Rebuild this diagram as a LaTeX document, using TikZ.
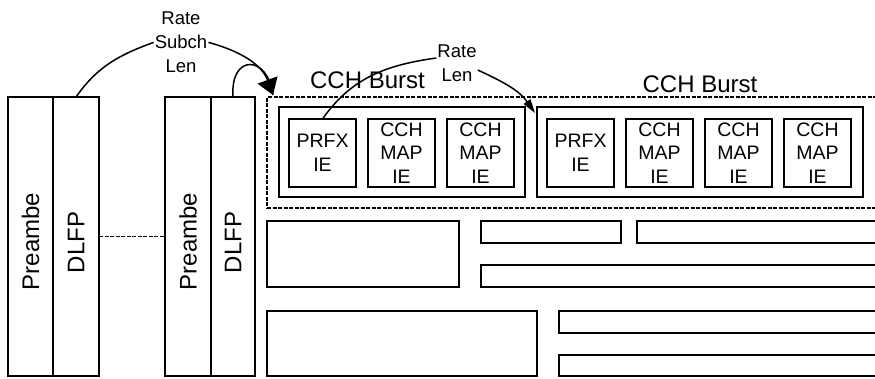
\documentclass[tikz,border=0pt]{standalone}
\usepackage{fontspec}
\setmainfont{Liberation Sans}
\usetikzlibrary{positioning, arrows.meta}

\begin{document}
\begin{tikzpicture}[
  x=1pt, y=1pt,
  node distance=12pt,
  campo/.style={rectangle, draw, line width=1.7pt, inner sep=0pt,
                outer sep=0pt, anchor=north west},
  ie/.style={rectangle, draw, line width=1.7pt, inner sep=0pt, outer sep=0pt,
             minimum width=67pt, minimum height=68pt, align=center,
             font=\fontsize{19.5}{23.5}\selectfont},
  vert/.style={rotate=90, inner sep=0pt, font=\fontsize{24}{28}\selectfont},
  etiq/.style={align=center, inner sep=1pt, font=\fontsize{18.5}{24}\selectfont},
  titulo/.style={anchor=base, inner sep=0pt, font=\fontsize{24}{28}\selectfont},
  arr/.style={line width=1.5pt},
  punteado/.style={dash pattern=on 4pt off 1.5pt, line width=1.2pt},
]
\useasboundingbox (0,0) rectangle (875,-378);
\clip (0,0) rectangle (875,-378);
% Preambulo y DLFP (dos tramas)
\node[campo, minimum width=45pt, minimum height=279pt] (pre1)  at (8,-97) {};
\node[campo, minimum width=46pt, minimum height=279pt] (dlfp1) at (pre1.north east) {};
\node[campo, minimum width=46pt, minimum height=279pt] (pre2)  at (165,-97) {};
\node[campo, minimum width=44pt, minimum height=279pt] (dlfp2) at (pre2.north east) {};
\node[vert] (tpre1)  at ([yshift=-5pt]pre1.center)  {Preambe};
\node[vert] (tdlfp1) at ([yshift=-6pt]dlfp1.center) {DLFP};
\node[vert] (tpre2)  at ([yshift=-5pt]pre2.center)  {Preambe};
\node[vert] (tdlfp2) at ([yshift=-6pt]dlfp2.center) {DLFP};
\draw[punteado] (dlfp1.east) -- (pre2.west);
% Zona de rafagas CCH (discontinua)
\node[campo, punteado, minimum width=640pt, minimum height=111pt] (zona) at (267,-97) {};
\node[campo, minimum width=246pt, minimum height=90pt] (burst1) at (279,-107) {};
\node[ie, anchor=north west] (prfx1) at (289,-119) {PRFX\\IE};
\node[ie, right=of prfx1] (map1a) {CCH\\MAP\\IE};
\node[ie, right=of map1a] (map1b) {CCH\\MAP\\IE};
\node[campo, minimum width=326pt, minimum height=90pt] (burst2) at (537,-107) {};
\node[ie, anchor=north west] (prfx2) at (547,-119) {PRFX\\IE};
\node[ie, right=of prfx2] (map2a) {CCH\\MAP\\IE};
\node[ie, right=of map2a] (map2b) {CCH\\MAP\\IE};
\node[ie, right=of map2b] (map2c) {CCH\\MAP\\IE};
\node[titulo] (hdr1) at (367.5,-88) {CCH Burst};
\node[titulo] (hdr2) at (700,-92) {CCH Burst};
% Campos inferiores
\node[campo, minimum width=192pt, minimum height=66pt] (blqA) at (267,-221) {};
\node[campo, minimum width=140pt, minimum height=22pt] (barra1) at ([xshift=22pt]blqA.north east) {};
\node[campo, minimum width=260pt, minimum height=22pt] (barra2) at ([xshift=16pt]barra1.north east) {};
\node[campo, minimum width=420pt, minimum height=22pt] (barra3) at (481,-265) {};
\node[campo, minimum width=270pt, minimum height=65pt] (blqB) at (267,-311) {};
\node[campo, minimum width=340pt, minimum height=22pt] (barra4) at ([xshift=22pt]blqB.north east) {};
\node[campo, minimum width=340pt, minimum height=21pt] (barra5) at (559,-355) {};
% Etiquetas y flechas
\node[etiq] (lbl1) at (181,-42.4) {Rate\\Subch\\Len};
\node[etiq] (lbl2) at (457,-63) {Rate\\Len};
\coordinate (tip1) at ([shift={(6,2)}]zona.north west);
\coordinate (tip2) at ([shift={(-2,-6)}]burst2.north west);
\draw[arr] (dlfp1.north) to[out=55, in=200] (lbl1.west);
\draw[arr, -{Triangle[length=16pt, width=21pt]}] (lbl1.east) to[out=-15, in=110] (tip1);
\draw[arr] (dlfp2.north) .. controls +(-3,44) and +(-5,40) .. (tip1);
\draw[arr] (prfx1.north) to[out=55, in=188] ([yshift=5pt]lbl2.west);
\draw[arr, -{Triangle[length=14pt, width=8pt]}] ([yshift=-7pt]lbl2.east) to[out=-25, in=125] (tip2);
\end{tikzpicture}
\end{document}
